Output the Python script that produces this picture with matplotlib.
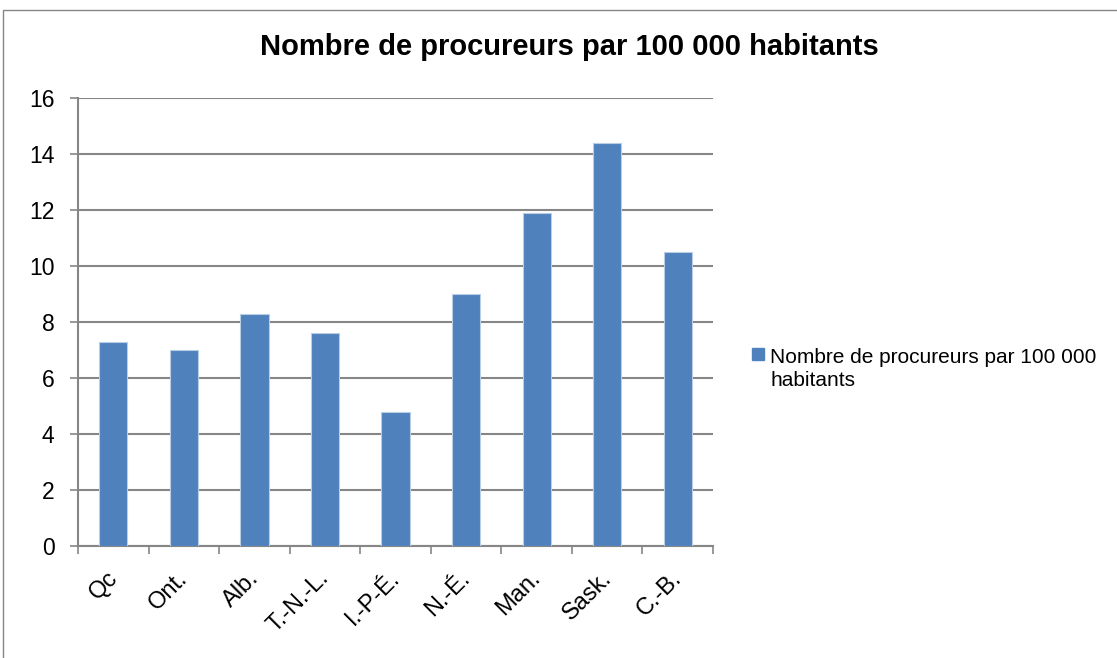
import numpy as np
import matplotlib.pyplot as plt
from matplotlib.patches import Rectangle

plt.rcParams['font.family'] = ['Liberation Sans', 'DejaVu Sans']

# Données
provinces = ['Qc', 'Ont.', 'Alb.', 'T.-N.-L.', 'I.-P-É.', 'N.-É.', 'Man.', 'Sask.', 'C.-B.']
procureurs = [7.3, 7.0, 8.3, 7.6, 4.8, 9.0, 11.9, 14.4, 10.5]
titre = 'Nombre de procureurs par 100 000 habitants'

gris = '#868686'
bleu = '#4F81BD'

fig = plt.figure(figsize=(11.17, 6.58), dpi=100)
W, H = 1117, 658
ax = fig.add_axes([78 / W, 1 - 546 / H, (713 - 78) / W, (546 - 98) / H])

# cadre du graphique
fig.patches.append(Rectangle((3 / W, -0.1), 1.2, (658 - 10) / H + 0.1,
                             transform=fig.transFigure, fill=False,
                             edgecolor=gris, linewidth=1))

x = np.arange(len(provinces))
ax.bar(x, procureurs, width=0.4, color=bleu, edgecolor='#B9CDE5',
       linewidth=0.8, label=titre, zorder=3)

ax.set_xlim(-0.5, len(provinces) - 0.5)
ax.set_ylim(0, 16)
ax.set_yticks(range(0, 17, 2))
ax.yaxis.grid(True, color=gris, linewidth=1.5, zorder=0)
ax.tick_params(axis='y', labelsize=16.5, length=6, color=gris, width=1.2, pad=11)

ax.set_xticks(np.arange(len(provinces) + 1) - 0.5)
ax.set_xticklabels([])
ax.tick_params(axis='x', length=6, color=gris, width=1.2)
for i, p in enumerate(provinces):
    ax.text(i - 0.1, -0.75, p, rotation=45, ha='right', va='top',
            rotation_mode='anchor', fontsize=17)

for s in ['top', 'right']:
    ax.spines[s].set_visible(False)
for s in ['left', 'bottom']:
    ax.spines[s].set_color(gris)
    ax.spines[s].set_linewidth(1.5)

fig.text(569 / W, 1 - 47 / H, titre, ha='center', va='center',
         fontsize=21, fontweight='bold')

# légende
fig.patches.append(Rectangle((752 / W, 1 - 360 / H), 12 / W, 12 / H,
                             transform=fig.transFigure, color=bleu))
fig.text(770 / W, 1 - 369 / H, 'Nombre de procureurs par 100 000\nhabitants',
         ha='left', va='center', fontsize=15, linespacing=1.25)

plt.savefig('out.png', dpi=100)
